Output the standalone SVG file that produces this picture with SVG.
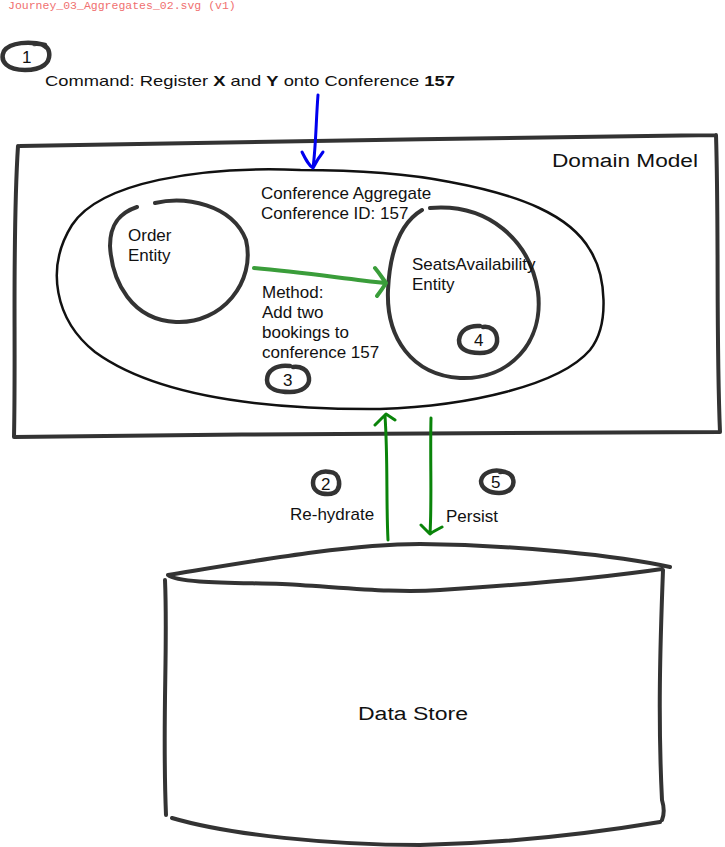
<svg xmlns="http://www.w3.org/2000/svg" width="725" height="847" viewBox="0 0 725 847">
<style>
.t{font-family:"Liberation Sans",Arial,sans-serif;font-size:17px;fill:#111}
.b{font-family:"Liberation Sans",Arial,sans-serif;font-size:17px;fill:#111}
.thick{fill:none;stroke:#333;stroke-width:4;stroke-linecap:round;stroke-linejoin:round}
.thin{fill:none;stroke:#111;stroke-width:2.5;stroke-linecap:round}
.ring{fill:none;stroke:#333;stroke-width:4.5;stroke-linecap:round}
.dg{fill:none;stroke:#0a840a;stroke-width:3;stroke-linecap:round;stroke-linejoin:round}
.lg{fill:none;stroke:#3a9d3a;stroke-width:4;stroke-linecap:round;stroke-linejoin:round}
.bl{fill:none;stroke:#0000ee;stroke-width:3;stroke-linecap:round;stroke-linejoin:round}
</style>
<rect width="725" height="847" fill="#fff"/>
<text x="8" y="9" style="font-family:'Liberation Mono',monospace;font-size:11.5px;fill:#f07070">Journey_03_Aggregates_02.svg (v1)</text>

<g id="badge1">
<path class="ring" d="M45,45 C30,41 10,42 4,51 C-1,62 8,70 25,70 C42,70 51,63 49,52 C48,46 41,43 34,44"/>
<text class="b" x="22" y="63">1</text>
</g>
<g id="command">
<text class="t" x="45" y="86" style="font-size:15px" textLength="410" lengthAdjust="spacingAndGlyphs">Command: Register <tspan font-weight="bold">X</tspan> and <tspan font-weight="bold">Y</tspan> onto Conference <tspan font-weight="bold">157</tspan></text>
</g>

<g id="domain-model">
<path class="thick" d="M20,146 C200,142 500,138 716,135 M716,135 C719,230 716,340 720,432 C500,432 250,434 14,437 C16,340 12,240 18,146"/>
<text class="b" x="552" y="167" style="font-size:18px" textLength="146" lengthAdjust="spacingAndGlyphs">Domain Model</text>
</g>

<g id="aggregate">
<path class="thin" d="M300,170 C200,166 100,182 72,225 C45,268 55,320 95,352 C150,392 250,410 380,409 C470,406 560,385 590,350 C610,325 606,275 590,250 C570,215 520,195 450,182 C400,172 345,170 300,170"/>
<text class="t" x="261" y="199">Conference Aggregate</text>
<text class="t" x="261" y="219">Conference ID: 157</text>
<text class="t" x="262" y="298">Method:</text>
<text class="t" x="262" y="318">Add two</text>
<text class="t" x="262" y="338">bookings to</text>
<text class="t" x="262" y="358">conference 157</text>
</g>

<g id="order-entity">
<path class="thick" d="M155,203 C185,196 232,204 246,240 C256,282 222,324 176,322 C132,320 112,282 110,246 C110,222 122,212 137,207"/>
<text class="t" x="128" y="241">Order</text>
<text class="t" x="128" y="261">Entity</text>
</g>

<g id="seats-entity">
<path class="thick" d="M430,208 C488,203 530,240 538,292 C544,342 510,380 460,378 C412,375 386,338 388,290 C390,248 402,222 422,210"/>
<text class="t" x="412" y="270">SeatsAvailability</text>
<text class="t" x="412" y="290">Entity</text>
</g>

<g id="badge4">
<path class="ring" d="M480,326 C468,325 460,331 459,340 C459,350 468,353 480,353 C492,353 498,347 497,338 C496,330 490,326 483,327"/>
<text class="b" x="474" y="346">4</text>
</g>
<g id="badge3">
<path class="ring" d="M290,366 C276,364 267,371 267,380 C267,389 278,392 290,392 C302,392 310,386 309,378 C308,369 300,366 293,367"/>
<text class="b" x="283" y="386">3</text>
</g>

<g id="data-store">
<path class="thick" d="M168,575 C260,560 350,544 420,544 C520,545 620,556 670,567 M168,575 C180,585 260,582 300,585 C360,589 400,593 440,590 C520,585 600,578 662,569 M165,580 C168,650 162,720 166,815 M663,570 C660,650 658,720 662,800 C665,810 664,815 662,820 M172,818 C230,835 330,845 420,845 C520,843 600,832 660,822"/>
<text class="b" x="358" y="720" style="font-size:18px" textLength="110" lengthAdjust="spacingAndGlyphs">Data Store</text>
</g>

<g id="badge2">
<path class="ring" d="M330,472 C320,470 313,475 313,483 C313,491 320,494 328,494 C337,494 340,488 339,481 C338,475 334,472 330,472"/>
<text class="b" x="321" y="490">2</text>
</g>
<g id="badge5">
<path class="ring" d="M505,472 C493,468 482,473 481,481 C481,489 490,493 499,493 C510,493 515,486 513,479 C512,474 506,471 500,472"/>
<text class="b" x="491" y="488">5</text>
</g>
<text class="t" x="290" y="520">Re-hydrate</text>
<text class="t" x="446" y="522">Persist</text>

<g id="connectors">
<path class="bl" d="M318,95 C316,120 316,145 313,168 M302,152 C306,160 309,166 313,168 C316,162 319,157 323,152"/>
<path class="lg" d="M254,268 C300,272 340,278 385,283 M375,268 C380,274 383,279 386,283 C383,288 380,292 377,296"/>
<path class="dg" d="M388,540 C386,500 388,460 385,416 M375,425 C379,421 383,417 386,414 C389,416 392,418 395,420"/>
<path class="dg" d="M431,418 C430,460 432,500 430,534 M421,525 C425,529 428,532 430,534 C434,531 438,529 442,527"/>
</g>
</svg>
